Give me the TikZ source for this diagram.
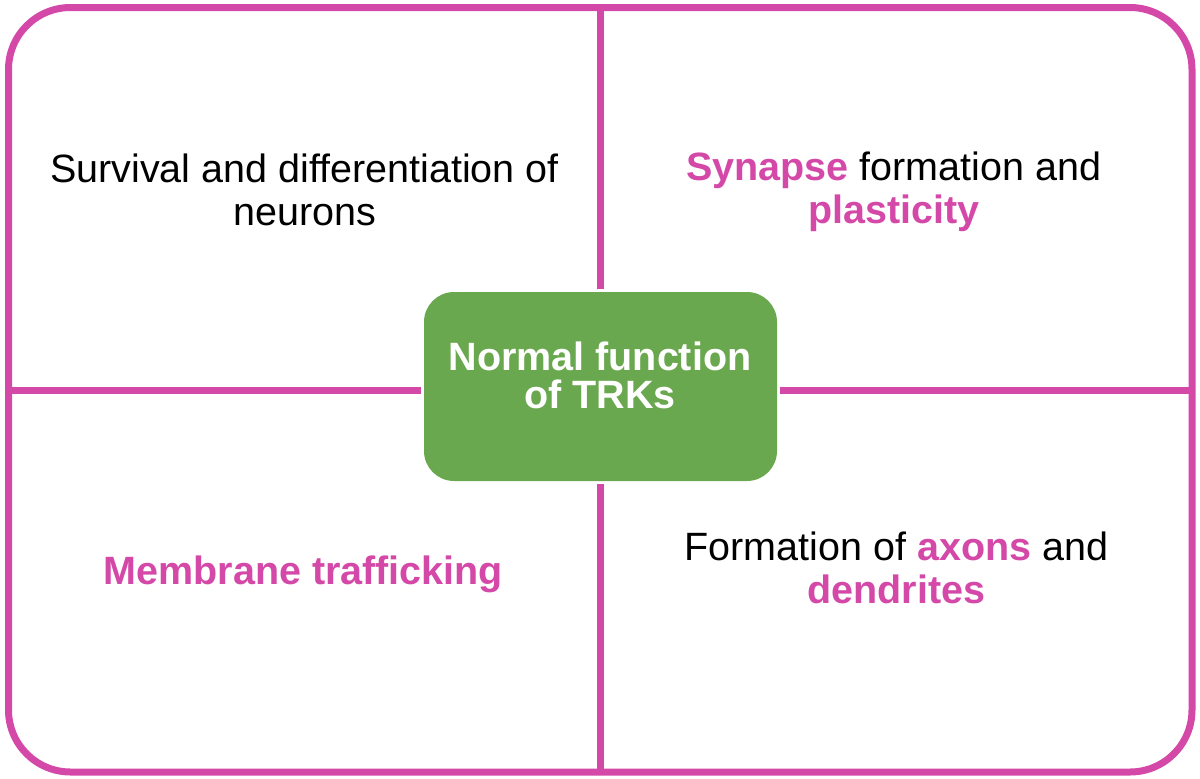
\documentclass[tikz,border=0pt]{standalone}
\usepackage{fontspec}
\setmainfont{Liberation Sans}
\definecolor{pinkline}{RGB}{212,72,168}
\definecolor{boxgreen}{RGB}{106,168,79}
\newcommand{\pk}[1]{\textcolor{pinkline}{\bfseries #1}}
\begin{document}
\begin{tikzpicture}[x=1pt,y=-1pt,
  frame/.style={draw=pinkline,line width=7pt},
  label/.style={font=\fontsize{39.5}{43}\selectfont,align=center,anchor=base,inner sep=0pt},
  centerbox/.style={fill=boxgreen,rounded corners=30pt,minimum width=353pt,minimum height=189pt,inner sep=0pt}]
\useasboundingbox (0,0) rectangle (1200,779);
\draw[frame,rounded corners=62pt] (8.5,7.5) rectangle (1192,772);
\node[centerbox] (box) at (600.5,386.5) {};
\coordinate (T) at (600.5,7.5);
\coordinate (B) at (600.5,772);
\coordinate (L) at (8.5,390);
\coordinate (R) at (1192,390);
\draw[frame,shorten >=3pt] (T) -- (box.north);
\draw[frame,shorten >=3pt] (B) -- (box.south);
\draw[frame,shorten >=2.5pt] (L) -- (box.west |- L);
\draw[frame,shorten >=2.5pt] (R) -- (box.east |- R);
\node[label,text=white,font=\fontsize{39.5}{38}\selectfont\bfseries] (ctext) at (600,408) {Normal function\\of TRKs};
\node[label] (tl) at (304.5,225) {Survival and differentiation of\\neurons};
\node[label] (tr) at (893.7,223) {\pk{Synapse} formation and\\\pk{plasticity}};
\node[label] (bl) at (303.3,584) {\pk{Membrane trafficking}};
\node[label] (br) at (896.3,603) {Formation of \pk{axons} and\\\pk{dendrites}};
\end{tikzpicture}
\end{document}
